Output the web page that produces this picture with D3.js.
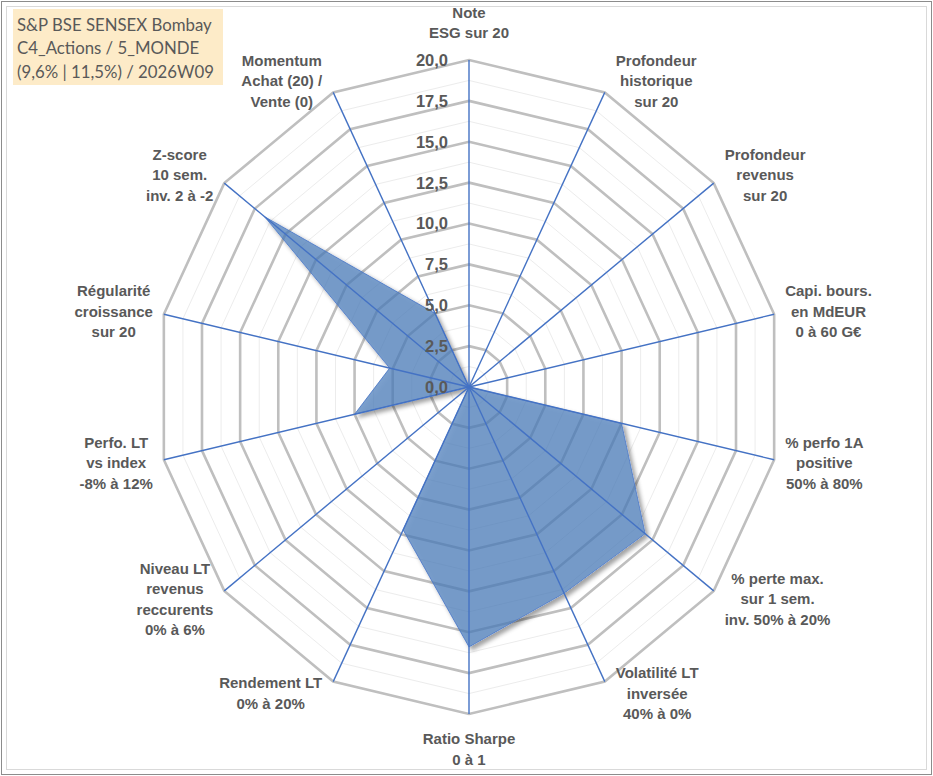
<!DOCTYPE html>
<html>
<head>
<meta charset="utf-8">
<script src="https://cdn.jsdelivr.net/npm/d3@7"></script>
<style>
  html, body { margin: 0; padding: 0; background: #fff; }
  svg { display: block; }
</style>
</head>
<body>
<svg id="chart" width="933" height="776"></svg>
<script>
// ---- data ----
const titleLines = ["S&P BSE SENSEX Bombay", "C4_Actions / 5_MONDE", "(9,6% | 11,5%) / 2026W09"];

const axisLabels = [
  ["Note", "ESG sur 20"],
  ["Profondeur", "historique", "sur 20"],
  ["Profondeur", "revenus", "sur 20"],
  ["Capi. bours.", "en MdEUR", "0 à 60 G€"],
  ["% perfo 1A", "positive", "50% à 80%"],
  ["% perte max.", "sur 1 sem.", "inv. 50% à 20%"],
  ["Volatilité LT", "inversée", "40% à 0%"],
  ["Ratio Sharpe", "0 à 1"],
  ["Rendement LT", "0% à 20%"],
  ["Niveau LT", "revenus", "reccurents", "0% à 6%"],
  ["Perfo. LT", "vs index", "-8% à 12%"],
  ["Régularité", "croissance", "sur 20"],
  ["Z-score", "10 sem.", "inv. 2 à -2"],
  ["Momentum", "Achat (20) /", "Vente (0)"]
];

const scores = [0, 0, 0, 0, 10.0, 14.4, 14.0, 15.9, 9.7, 0, 7.5, 5.2, 16.7, 5.0];

const majorTicks = [0, 2.5, 5, 7.5, 10, 12.5, 15, 17.5, 20];
const minorTicks = [1.25, 3.75, 6.25, 8.75, 11.25, 13.75, 16.25, 18.75];

// ---- layout ----
const W = 933, H = 776;
const cx = 469, cy = 387;
const labelFont = "'Liberation Sans', Arial, sans-serif";
const textColor = "#595959";

const svg = d3.select("#chart");

const n = axisLabels.length;
const angle = d3.scaleLinear().domain([0, n]).range([0, 2 * Math.PI]);
// the plot is slightly taller than wide
const rX = d3.scaleLinear().domain([0, 20]).range([0, 313]);
const rY = d3.scaleLinear().domain([0, 20]).range([0, 327]);

function pt(i, v) {
  const a = angle(i);
  return [cx + rX(v) * Math.sin(a), cy - rY(v) * Math.cos(a)];
}

const ringLine = d3.line().curve(d3.curveLinearClosed);
const ringPath = t => ringLine(d3.range(n).map(i => pt(i, t)));

// outer shadow only (so the translucent fill is not darkened)
const defs = svg.append("defs");
const f = defs.append("filter").attr("id", "shadow")
  .attr("x", "-10%").attr("y", "-10%").attr("width", "130%").attr("height", "130%");
f.append("feGaussianBlur").attr("in", "SourceAlpha").attr("stdDeviation", 2.2).attr("result", "blur");
f.append("feOffset").attr("in", "blur").attr("dx", 2.5).attr("dy", 2.5).attr("result", "off");
f.append("feComposite").attr("in", "off").attr("in2", "SourceAlpha").attr("operator", "out").attr("result", "outer");
f.append("feColorMatrix").attr("in", "outer").attr("type", "matrix")
  .attr("values", "0 0 0 0 0  0 0 0 0 0  0 0 0 0 0  0 0 0 0.5 0").attr("result", "sh");
const merge = f.append("feMerge");
merge.append("feMergeNode").attr("in", "sh");
merge.append("feMergeNode").attr("in", "SourceGraphic");

// frame
svg.append("rect").attr("x", 1.5).attr("y", 1.5).attr("width", W - 3).attr("height", H - 3)
  .attr("fill", "#fff").attr("stroke", "#8c8c8c").attr("stroke-width", 1);
svg.append("rect").attr("x", 6.5).attr("y", 6.5).attr("width", W - 13).attr("height", H - 13)
  .attr("fill", "none").attr("stroke", "#d9d9d9").attr("stroke-width", 1);

// grid rings
svg.append("g").attr("class", "minor")
  .selectAll("path").data(minorTicks).join("path")
  .attr("d", ringPath)
  .attr("fill", "none").attr("stroke", "#ececec").attr("stroke-width", 1);

svg.append("g").attr("class", "major")
  .selectAll("path").data(majorTicks.filter(t => t > 0)).join("path")
  .attr("d", ringPath)
  .attr("fill", "none").attr("stroke", "#bfbfbf").attr("stroke-width", 2.6)
  .attr("stroke-linejoin", "miter");

// series
svg.append("path")
  .datum(scores.map((v, i) => pt(i, v)))
  .attr("d", ringLine)
  .attr("fill", "rgba(74,122,184,0.72)")
  .attr("stroke", "#4472c4").attr("stroke-width", 0.8)
  .attr("filter", "url(#shadow)");

// spokes
svg.append("g").attr("class", "spokes")
  .selectAll("line").data(d3.range(n)).join("line")
  .attr("x1", cx).attr("y1", cy)
  .attr("x2", i => pt(i, 20)[0]).attr("y2", i => pt(i, 20)[1])
  .attr("stroke", "#4472c4").attr("stroke-width", 1.4);

// tick labels
const fmt = v => d3.format(".1f")(v).replace(".", ",");
svg.append("g").attr("class", "ticks")
  .selectAll("text").data(majorTicks).join("text")
  .attr("x", cx - 21)
  .attr("y", t => cy - rY(t))
  .attr("dy", "0.36em")
  .attr("text-anchor", "end")
  .attr("font-family", labelFont).attr("font-weight", "bold").attr("font-size", "16.5px")
  .attr("fill", textColor)
  .text(fmt);

// axis labels
const lh = 20.5;
const labelG = svg.append("g").attr("class", "axis-labels");
axisLabels.forEach((lines, i) => {
  const a = angle(i), s = Math.sin(a), c = Math.cos(a);
  const [ex, ey] = pt(i, 20);
  const g = labelG.append("g");
  const texts = g.selectAll("text").data(lines).join("text")
    .attr("text-anchor", "middle")
    .attr("dy", "0.36em")
    .attr("font-family", labelFont).attr("font-weight", "bold").attr("font-size", "15px")
    .attr("fill", textColor)
    .text(d => d);
  let maxW = 0;
  texts.each(function () { maxW = Math.max(maxW, this.getComputedTextLength()); });
  const blockH = (lines.length - 1) * lh;
  let lx, firstY;
  if (Math.abs(s) < 0.01) {
    lx = ex;
    firstY = c > 0 ? ey - 27 - blockH : ey + 25;
  } else {
    lx = ex + Math.sign(s) * (maxW / 2 + 11);
    firstY = ey - 13 * c - blockH / 2;
  }
  texts.attr("x", lx).attr("y", (d, k) => firstY + k * lh);
});

// title box
const tg = svg.append("g").attr("class", "title");
tg.append("rect").attr("x", 13).attr("y", 9).attr("width", 210).attr("height", 76)
  .attr("fill", "#fdebc8");
tg.selectAll("text").data(titleLines).join("text")
  .attr("x", 17)
  .attr("y", (d, k) => 31 + k * 23.3)
  .attr("font-family", "Lato, 'Open Sans', sans-serif").attr("font-size", "16.8px")
  .attr("fill", textColor)
  .text(d => d);
</script>
</body>
</html>
